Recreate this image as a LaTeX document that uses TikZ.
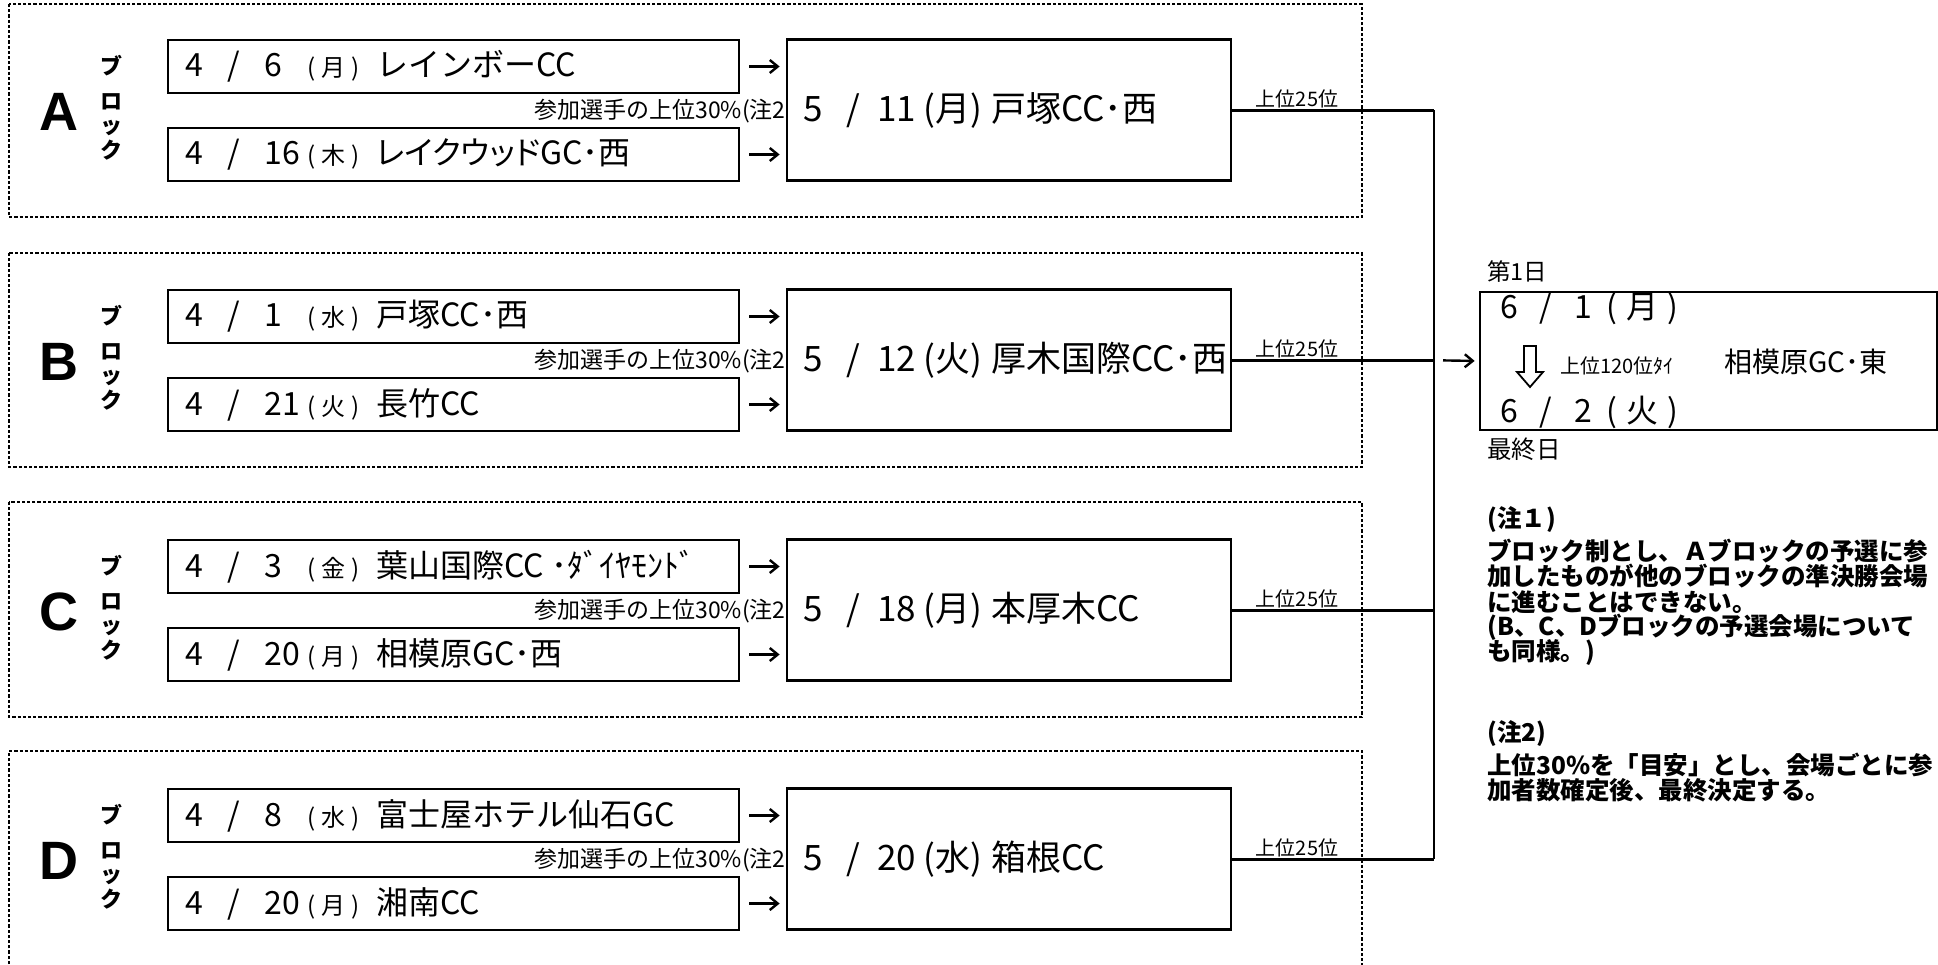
\documentclass[tikz,border=0pt]{standalone}
\usepackage{fontspec}
\setmainfont{Noto Sans CJK JP}
\newfontfamily\latb{Liberation Sans}
\newfontfamily\jpp[RawFeature=+palt]{Noto Sans CJK JP}
\usetikzlibrary{arrows.meta}
\newlength\pxu\setlength\pxu{0.5pt}
\newcommand\fs[1]{\fontsize{#1}{#1}\selectfont}
% small-box line: month, day, weekday, name
\newcommand\sline[4]{\fs{16pt}\makebox[0pt][l]{#1}\makebox[0pt][l]{\hspace{42\pxu}/}\makebox[0pt][l]{\hspace{79\pxu}#2}\makebox[0pt][l]{\hspace{148\pxu}\makebox[0pt][c]{\fs{12pt}(\kern3pt#3\kern3pt)}}\hspace{191\pxu}#4}
% big-box line
\newcommand\bline[4]{\fs{17.5pt}\makebox[0pt][l]{#1}\makebox[0pt][l]{\hspace{43\pxu}/}\makebox[0pt][l]{\hspace{74\pxu}#2}\makebox[0pt][l]{\hspace{120\pxu}(#3)}\hspace{188\pxu}#4}
% final-box date line
\newcommand\fline[3]{\fs{16pt}\makebox[0pt][l]{#1}\makebox[0pt][l]{\hspace{39\pxu}/}\makebox[0pt][l]{\hspace{74\pxu}#2}\hspace{106\pxu}(\kern4.5pt#3\kern4.5pt)}
\begin{document}
\begin{tikzpicture}[x=0.5pt,y=-0.5pt,
  box/.style={draw,line width=1.35pt,inner sep=0pt},
  smallbox/.style={box,minimum width=285.5pt,minimum height=26.5pt},
  bigbox/.style={box,minimum width=222pt,minimum height=70.5pt},
  blockframe/.style={line width=1.2pt,dash pattern=on 1.6pt off 1pt},
  txt/.style={inner sep=0pt,anchor=west},
  letter/.style={inner sep=0pt,font=\latb\bfseries\fs{27pt}},
  kana/.style={inner sep=0pt,font=\bfseries\fs{11pt}},
  qlabel/.style={txt,anchor=east,font=\fs{11.5pt}},
  toplabel/.style={inner sep=0pt,font=\fs{10pt}},
  note/.style={txt,font=\bfseries\fs{12.25pt}},
  conn/.style={line width=1.3pt},
  arr/.style={line width=1.2pt,-{Straight Barb[length=4pt,width=6.5pt,line width=1.2pt]}},
]
\clip (0,0) rectangle (1938,964);
\fill[white] (0,0) rectangle (1938,964);

% ---------- frames ----------
\draw[blockframe] (9,4) rectangle (1362,217);
\draw[blockframe] (9,253) rectangle (1362,467);
\draw[blockframe] (9,502) rectangle (1362,717);
\draw[blockframe] (9,990) -- (9,751) -- (1362,751) -- (1362,990);

\coordinate (J) at (1434,0);

% ---------- block A ----------
\node[letter] (Al) at (59,112) {A};
\node[kana] (Ak1) at (111,66) {ブ};
\node[kana] (Ak2) at (111,102) {ロ};
\node[kana] (Ak3) at (111,128) {ッ};
\node[kana] (Ak4) at (111,150) {ク};
\node[smallbox] (A1) at (453.5,66.5) {};
\node[smallbox] (A2) at (453.5,154.5) {};
\node[txt] (A1t) at (185,66.5) {\sline{4}{6}{月}{レインボーCC}};
\node[txt] (A2t) at (185,154.5) {\sline{4}{16}{木}{\jpp レイクウッドGC･西}};
\node[bigbox] (AB) at (1009,110.25) {};
\node[txt] (ABt) at (803,110.5) {\bline{5}{11}{月}{戸塚CC･西}};
\node[qlabel] (Aq) at (786,111) {参加選手の上位30\%(注2};
\draw[arr,shorten <=4.5pt,shorten >=3pt] (A1.east) -- (A1.east -| AB.west);
\draw[arr,shorten <=4.5pt,shorten >=3pt] (A2.east) -- (A2.east -| AB.west);
\draw[conn] (AB.east) -- (AB.east -| J);
\node[toplabel] (At) at (1297,98.5) {上位25位};

% ---------- block B ----------
\node[letter] (Bl) at (59,362) {B};
\node[kana] (Bk1) at (111,316) {ブ};
\node[kana] (Bk2) at (111,352) {ロ};
\node[kana] (Bk3) at (111,378) {ッ};
\node[kana] (Bk4) at (111,400) {ク};
\node[smallbox] (B1) at (453.5,316.5) {};
\node[smallbox] (B2) at (453.5,404.5) {};
\node[txt] (B1t) at (185,316.5) {\sline{4}{1}{水}{戸塚CC･西}};
\node[txt] (B2t) at (185,404.5) {\sline{4}{21}{火}{長竹CC}};
\node[bigbox] (BB) at (1009,360.25) {};
\node[txt] (BBt) at (803,360.5) {\bline{5}{12}{火}{厚木国際CC･西}};
\node[qlabel] (Bq) at (786,361) {参加選手の上位30\%(注2};
\draw[arr,shorten <=4.5pt,shorten >=3pt] (B1.east) -- (B1.east -| BB.west);
\draw[arr,shorten <=4.5pt,shorten >=3pt] (B2.east) -- (B2.east -| BB.west);
\draw[conn] (BB.east) -- (BB.east -| J);
\node[toplabel] (Bt) at (1297,348.5) {上位25位};

% ---------- block C ----------
\node[letter] (Cl) at (59,612) {C};
\node[kana] (Ck1) at (111,566) {ブ};
\node[kana] (Ck2) at (111,602) {ロ};
\node[kana] (Ck3) at (111,628) {ッ};
\node[kana] (Ck4) at (111,650) {ク};
\node[smallbox] (C1) at (453.5,566.5) {};
\node[smallbox] (C2) at (453.5,654.5) {};
\node[txt] (C1t) at (185,566.5) {\sline{4}{3}{金}{葉山国際CC ･ﾀﾞｲﾔﾓﾝﾄﾞ}};
\node[txt] (C2t) at (185,654.5) {\sline{4}{20}{月}{相模原GC･西}};
\node[bigbox] (CB) at (1009,610.25) {};
\node[txt] (CBt) at (803,610.5) {\bline{5}{18}{月}{本厚木CC}};
\node[qlabel] (Cq) at (786,611) {参加選手の上位30\%(注2};
\draw[arr,shorten <=4.5pt,shorten >=3pt] (C1.east) -- (C1.east -| CB.west);
\draw[arr,shorten <=4.5pt,shorten >=3pt] (C2.east) -- (C2.east -| CB.west);
\draw[conn] (CB.east) -- (CB.east -| J);
\node[toplabel] (Ct) at (1297,598.5) {上位25位};

% ---------- block D ----------
\node[letter] (Dl) at (59,861) {D};
\node[kana] (Dk1) at (111,815) {ブ};
\node[kana] (Dk2) at (111,851) {ロ};
\node[kana] (Dk3) at (111,877) {ッ};
\node[kana] (Dk4) at (111,899) {ク};
\node[smallbox] (D1) at (453.5,815.5) {};
\node[smallbox] (D2) at (453.5,903.5) {};
\node[txt] (D1t) at (185,815.5) {\sline{4}{8}{水}{富士屋ホテル仙石GC}};
\node[txt] (D2t) at (185,903.5) {\sline{4}{20}{月}{湘南CC}};
\node[bigbox] (DB) at (1009,859.25) {};
\node[txt] (DBt) at (803,859.5) {\bline{5}{20}{水}{箱根CC}};
\node[qlabel] (Dq) at (786,860) {参加選手の上位30\%(注2};
\draw[arr,shorten <=4.5pt,shorten >=3pt] (D1.east) -- (D1.east -| DB.west);
\draw[arr,shorten <=4.5pt,shorten >=3pt] (D2.east) -- (D2.east -| DB.west);
\draw[conn] (DB.east) -- (DB.east -| J);
\node[toplabel] (Dt) at (1297,847.5) {上位25位};

% ---------- junction and final ----------
\draw[conn] (AB.east -| J) -- (DB.east -| J);
\node[box,minimum width=228.5pt,minimum height=69pt] (F) at (1708.5,361) {};
\draw[arr,shorten <=4.5pt,shorten >=2pt] (BB.east -| J) -- (F.west);
\node[txt,font=\fs{11.75pt}] (F1) at (1487,272) {第1日};
\node[txt,font=\fs{12.25pt}] (F2) at (1487,449) {最終日};
\node[txt] (F3) at (1500,309) {\fline{6}{1}{月}};
\node[txt] (F4) at (1500,412) {\fline{6}{2}{火}};
\draw[line width=0.9pt,line join=miter] (1524,346) -- (1536,346) -- (1536,372) -- (1543,372) -- (1530,387) -- (1517,372) -- (1524,372) -- cycle;
\node[txt,font=\fs{10pt}] (F5) at (1560,366) {上位120位ﾀｲ};
\node[txt,font=\fs{14pt}] (F6) at (1724,362) {相模原GC･東};

% ---------- notes ----------
\node[note] (N0) at (1487,520) {(注１)};
\node[note] (N1) at (1487,551) {ブロック制とし、Ａブロックの予選に参};
\node[note] (N2) at (1487,576.5) {加したものが他のブロックの準決勝会場};
\node[note] (N3) at (1487,602) {に進むことはできない。};
\node[note] (N4) at (1487,627.5) {(B、C、Dブロックの予選会場について};
\node[note] (N5) at (1487,653) {も同様。)};
\node[note] (M0) at (1487,734) {(注2)};
\node[note] (M1) at (1487,765) {上位30\%を「目安」とし、会場ごとに参};
\node[note] (M2) at (1487,790.5) {加者数確定後、最終決定する。};
\end{tikzpicture}
\end{document}
